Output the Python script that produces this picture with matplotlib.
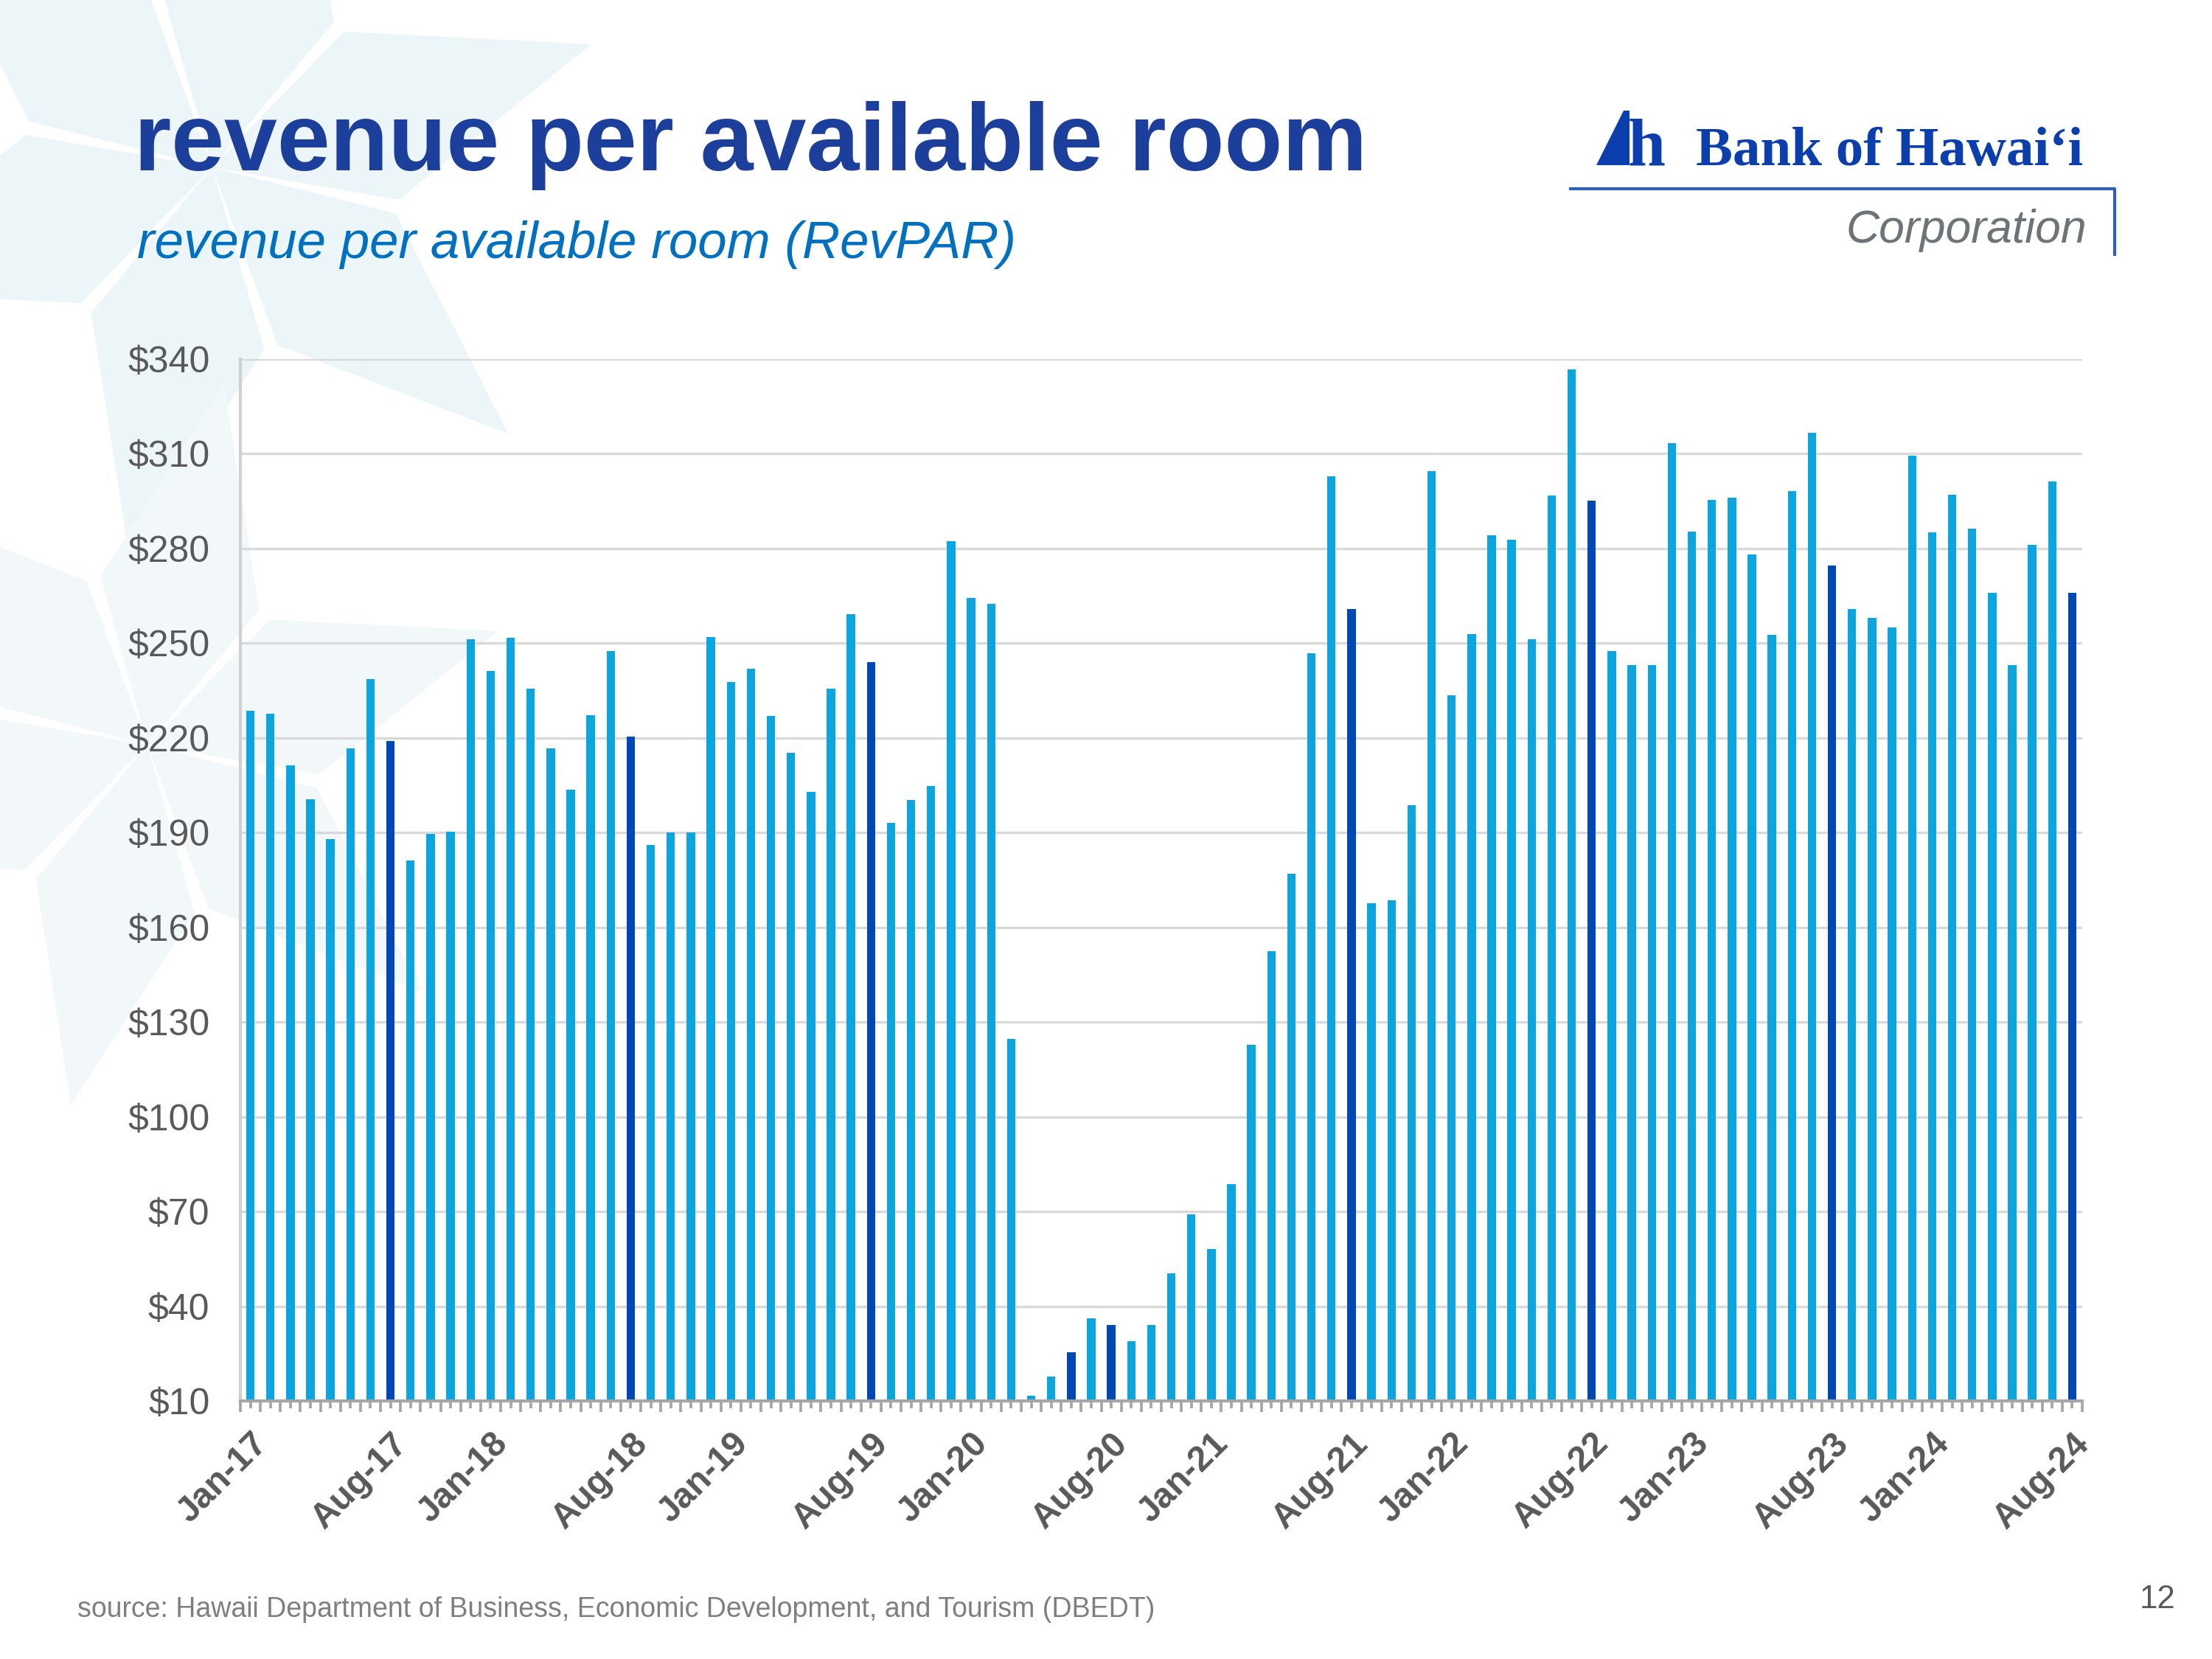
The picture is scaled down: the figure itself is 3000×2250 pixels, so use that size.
import matplotlib.pyplot as plt
import numpy as np
from matplotlib.patches import Polygon

plt.rcParams['font.family'] = ['Liberation Sans', 'DejaVu Sans']

# monthly RevPAR ($)
rev_2017 = [228.6, 227.6, 211.4, 200.6, 188.0, 216.8, 238.7, 219.0, 181.2, 189.5, 190.3, 251.2]
rev_2018 = [241.2, 251.7, 235.7, 216.8, 203.5, 227.1, 247.5, 220.5, 186.1, 190.0, 190.0, 252.0]
rev_2019 = [237.7, 241.9, 226.9, 215.3, 202.8, 235.7, 259.3, 244.1, 193.2, 200.3, 204.8, 282.2]
rev_2020 = [264.3, 262.5, 124.6, 11.7, 17.6, 25.3, 36.1, 34.1, 29.0, 34.1, 50.3, 69.0]
rev_2021 = [58.2, 78.6, 122.9, 152.4, 177.0, 246.8, 302.9, 260.8, 167.6, 168.6, 198.6, 304.6]
rev_2022 = [233.5, 253.0, 284.2, 282.7, 251.2, 296.7, 336.8, 295.2, 247.5, 243.1, 243.1, 313.4]
rev_2023 = [285.4, 295.5, 296.0, 278.0, 252.7, 298.2, 316.6, 274.6, 260.8, 258.1, 254.9, 309.3]
rev_2024 = [285.2, 297.0, 286.4, 266.0, 243.1, 281.2, 301.2, 266.0]

months = ['Jan', 'Feb', 'Mar', 'Apr', 'May', 'Jun', 'Jul', 'Aug', 'Sep', 'Oct', 'Nov', 'Dec']
years = ['17', '18', '19', '20', '21', '22', '23', '24']
labelled_months = ['Jan', 'Aug']
dark_extra = ['Jun-20']
y_ticks = [10, 40, 70, 100, 130, 160, 190, 220, 250, 280, 310, 340]

revpar = rev_2017 + rev_2018 + rev_2019 + rev_2020 + rev_2021 + rev_2022 + rev_2023 + rev_2024
labels = [m + '-' + y for y in years for m in months][:len(revpar)]

light = '#0BA6DF'
dark = '#0048B7'
grey_txt = '#595959'

fig = plt.figure(figsize=(10, 7.5), dpi=300)

# background layer in pixel coords (slide decoration + logo)
bg = fig.add_axes([0, 0, 1, 1], zorder=0)
bg.set_xlim(0, 3000)
bg.set_ylim(2250, 0)
bg.axis('off')


def star(cx, cy, arm, half, start, colour):
    for k in range(6):
        a = np.radians(start + 60 * k)
        tip = (cx + arm * np.cos(a), cy - arm * np.sin(a))
        mid = (cx + 0.42 * arm * np.cos(a), cy - 0.42 * arm * np.sin(a))
        s1 = (mid[0] + half * np.sin(a), mid[1] + half * np.cos(a))
        s2 = (mid[0] - half * np.sin(a), mid[1] - half * np.cos(a))
        bg.add_patch(Polygon([(cx, cy), s1, tip, s2], closed=True,
                             facecolor=colour, edgecolor='none'))


star(288, 227, 540, 120, -42, '#ECF5F7')
star(200, 1010, 500, 110, -42, '#F2F8FA')

# logo
bg.add_patch(Polygon([(2165, 224), (2202, 150), (2210, 150), (2210, 224)],
                     closed=True, facecolor='#0B3FAE', edgecolor='none'))
bg.text(2208, 224, 'h', fontsize=22, fontweight='bold', color='#0B3FAE',
        family=['Liberation Serif', 'DejaVu Serif'], va='baseline', ha='left')
bg.text(2300, 224, 'Bank of Hawai\u2018i', fontsize=18, fontweight='bold', color='#0B3FAE',
        family=['Liberation Serif', 'DejaVu Serif'], va='baseline', ha='left')
bg.plot([2130, 2868, 2868], [256, 256, 345], color='#2F5DB8', lw=1.0)
bg.text(2830, 329, 'Corporation', fontsize=15, style='italic', color='#6D7478',
        va='baseline', ha='right')

# titles and footer
fig.text(182 / 3000, 1 - 231 / 2250, 'revenue per available room', fontsize=31,
         fontweight='bold', color='#1C3F9C', va='baseline', ha='left')
fig.text(186 / 3000, 1 - 350 / 2250, 'revenue per available room (RevPAR)', fontsize=17,
         style='italic', color='#0070C0', va='baseline', ha='left')
fig.text(105 / 3000, 1 - 2193 / 2250,
         'source: Hawaii Department of Business, Economic Development, and Tourism (DBEDT)',
         fontsize=9, color='#7F7F7F', va='baseline', ha='left')
fig.text(2950 / 3000, 1 - 2181 / 2250, '12', fontsize=10.5, color=grey_txt,
         va='baseline', ha='right')

# chart
ax = fig.add_axes([326 / 3000, 1 - 1900 / 2250, 2498 / 3000, 1413 / 2250], zorder=1)
ax.patch.set_alpha(0)

x = np.arange(len(revpar))
colors = [dark if (lab.startswith('Aug') or lab in dark_extra) else light for lab in labels]
ax.bar(x, revpar, width=0.42, color=colors, zorder=2)

ax.set_xlim(-0.5, len(revpar) - 0.5)
ax.set_ylim(10, 340)
ax.set_yticks(y_ticks, ['$' + str(v) for v in y_ticks])
ax.yaxis.grid(True, color='#D9D9D9', lw=0.8)
ax.set_axisbelow(True)
ax.tick_params(axis='y', length=0, pad=10, labelsize=12, labelcolor=grey_txt)

ax.set_xticks(x, [lab if lab[:3] in labelled_months else '' for lab in labels])
ax.set_xticks(np.arange(-0.5, len(revpar), 1), minor=True)
ax.tick_params(axis='x', which='major', length=2.4, width=0.9, color='#A6A6A6',
               labelsize=11.5, labelcolor=grey_txt, pad=6)
ax.tick_params(axis='x', which='minor', length=3.6, width=0.9, color='#A6A6A6')
for t in ax.get_xticklabels():
    t.set_rotation(45)
    t.set_ha('right')
    t.set_rotation_mode('anchor')
    t.set_fontweight('bold')

for s in ['top', 'right']:
    ax.spines[s].set_visible(False)
ax.spines['left'].set_color('#D0D0D0')
ax.spines['left'].set_linewidth(1.0)
ax.spines['bottom'].set_color('#A6A6A6')
ax.spines['bottom'].set_linewidth(1.0)

fig.savefig('out.png', dpi=300, facecolor='white')
